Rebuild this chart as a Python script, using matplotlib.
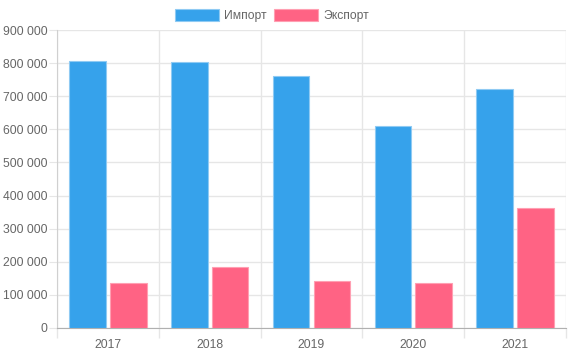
import numpy as np
import matplotlib.pyplot as plt
from matplotlib.ticker import FuncFormatter, MultipleLocator

YEARS = ['2017', '2018', '2019', '2020', '2021']
IMPORT = [806000, 802000, 760000, 609000, 721000]
EXPORT = [135000, 185000, 142000, 135000, 361000]

BLUE = '#36A2EB'
PINK = '#FF6384'
GRID = '#e6e6e6'
TEXT = '#666666'

plt.rcParams['font.family'] = ['Liberation Sans', 'DejaVu Sans']


def thousands(v, pos):
    return '{:,}'.format(int(v)).replace(',', ' ')


def main():

    fig = plt.figure(figsize=(5.76, 3.56), dpi=100)
    ax = fig.add_axes([57 / 576, 1 - 328 / 356, (566 - 57) / 576, (328 - 30) / 356])

    x = np.arange(len(YEARS))
    w = 0.36

    ax.bar(x - 0.2, IMPORT, w, color=BLUE, edgecolor='#8fcaf3', linewidth=0.8,
           label='Импорт', zorder=3)
    ax.bar(x + 0.2, EXPORT, w, color=PINK, edgecolor='#ff9fb2', linewidth=0.8,
           label='Экспорт', zorder=3)

    ax.set_xlim(-0.5, len(YEARS) - 0.5)
    ax.set_ylim(0, 900000)

    ax.yaxis.set_major_locator(MultipleLocator(100000))
    ax.yaxis.set_major_formatter(FuncFormatter(thousands))

    ax.set_xticks(x)
    ax.set_xticklabels(YEARS)
    ax.set_xticks(np.arange(-0.5, len(YEARS)), minor=True)
    ax.tick_params(axis='x', which='major', length=0, pad=8, labelsize=8.7, labelcolor=TEXT)
    ax.tick_params(axis='x', which='minor', length=7, color=GRID, width=1)
    ax.tick_params(axis='y', length=6, color=GRID, pad=1, labelsize=8.7, labelcolor=TEXT)

    ax.grid(axis='y', color=GRID, lw=1, zorder=0)
    ax.grid(axis='x', which='minor', color=GRID, lw=1, zorder=0)

    for side in ['top', 'right']:
        ax.spines[side].set_visible(False)
    ax.spines['left'].set_color('#d0d0d0')
    ax.spines['bottom'].set_color('#b0b0b0')

    fig.legend(loc='upper center', bbox_to_anchor=(272 / 576, 1 - 4 / 356), ncol=2, frameon=False,
               fontsize=8.7, labelcolor=TEXT, handlelength=3.6, handleheight=1.2,
               handletextpad=0.45, columnspacing=0.6, borderaxespad=0)

    fig.savefig('out.png', dpi=100)


if __name__ == '__main__':
    main()
